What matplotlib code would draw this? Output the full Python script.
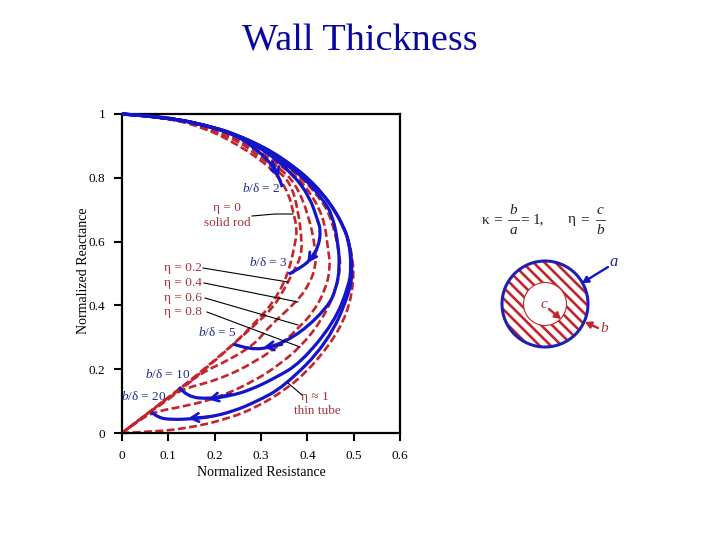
import numpy as np
import matplotlib
matplotlib.use("Agg")
import matplotlib.pyplot as plt
from matplotlib.path import Path
from matplotlib.patches import PathPatch, Circle

plt.rcParams['font.family'] = ['Liberation Serif', 'DejaVu Serif']
plt.rcParams['mathtext.fontset'] = 'custom'
plt.rcParams['mathtext.rm'] = 'Liberation Serif'
plt.rcParams['mathtext.it'] = 'Liberation Serif:italic'

RED = '#c4242c'
BLUE = '#1414c8'
DARK_BLUE = '#1c2a8c'
TEXT_RED = '#a83038'

# curves: resistance, reactance
eta_00_r = [0, .1, .18, .24, .3, .335, .36, .37, .378, .374, .357, .325, .299, .24, .169, .119, .061, 0]
eta_00_x = [1, .99, .955, .912, .856, .809, .75, .69, .64, .595, .49, .407, .364, .276, .188, .125, .066, 0]
eta_02_r = [0, .1, .2, .25, .28, .33, .364, .38, .389, .385, .375, .35, .325, .28, .24, .169, .09, 0]
eta_02_x = [1, .99, .945, .915, .885, .83, .784, .70, .595, .55, .52, .45, .39, .33, .278, .19, .1, 0]
eta_04_r = [0, .1, .2, .25, .29, .34, .374, .403, .418, .418, .405, .381, .316, .288, .23, .17, .09, 0]
eta_04_x = [1, .99, .95, .92, .885, .83, .784, .683, .574, .52, .47, .417, .332, .28, .228, .188, .1, 0]
eta_06_r = [0, .1, .2, .25, .3, .36, .392, .435, .445, .45, .439, .411, .381, .353, .288, .205, .121, .06, 0]
eta_06_x = [1, .99, .955, .925, .88, .82, .784, .683, .574, .52, .448, .375, .33, .29, .222, .165, .135, .066, 0]
eta_08_r = [0, .1, .2, .25, .31, .38, .42, .45, .468, .472, .46, .43, .385, .34, .288, .21, .14, .067, .03, 0]
eta_08_x = [1, .99, .957, .93, .885, .81, .75, .683, .574, .52, .44, .35, .27, .215, .165, .112, .085, .066, .033, 0]
eta_10_r = [0, .07, .14, .218, .3, .357, .4, .433, .458, .477, .49, .497, .5, .497, .49, .477, .458, .433, .4, .357, .288, .218, .14, .07, 0]
eta_10_x = [1, .995, .98, .95, .9, .85, .8, .75, .7, .65, .6, .55, .5, .45, .4, .35, .3, .25, .195, .14, .078, .04, .015, .004, 0]
red_curves = [(eta_00_r, eta_00_x), (eta_02_r, eta_02_x), (eta_04_r, eta_04_x),
              (eta_06_r, eta_06_x), (eta_08_r, eta_08_x), (eta_10_r, eta_10_x)]

bd_2_r = [0, .1, .2, .25, .28, .32, .34, .346]
bd_2_x = [1, .99, .957, .93, .90, .85, .80, .771]
bd_3_r = [0, .1, .2, .25, .31, .37, .405, .422, .429, .424, .407, .381, .36]
bd_3_x = [1, .99, .957, .93, .885, .81, .74, .668, .636, .583, .542, .514, .498]
bd_5_r = [0, .1, .2, .25, .29, .33, .39, .435, .454, .466, .47, .462, .444, .385, .327, .277, .24]
bd_5_x = [1, .99, .958, .932, .90, .865, .805, .73, .683, .60, .52, .45, .395, .313, .27, .26, .279]
bd_10_r = [0, .1, .2, .25, .3, .336, .37, .4, .433, .458, .477, .49, .495, .489, .457, .385, .33, .277, .235, .19, .14, .123]
bd_10_x = [1, .99, .958, .933, .9, .87, .835, .8, .75, .7, .65, .6, .52, .458, .345, .219, .172, .135, .117, .107, .113, .144]
bd_20_r = [0, .1, .2, .25, .3, .336, .37, .4, .433, .458, .477, .49, .497, .494, .444, .349, .288, .24, .19, .147, .11, .078, .063]
bd_20_x = [1, .99, .958, .933, .9, .87, .835, .8, .75, .7, .65, .6, .53, .448, .282, .144, .097, .068, .05, .044, .042, .047, .066]
blue_curves = [(bd_2_r, bd_2_x), (bd_3_r, bd_3_x), (bd_5_r, bd_5_x),
               (bd_10_r, bd_10_x), (bd_20_r, bd_20_x)]

# arrow on each blue curve: tail r, tail x, tip r, tip x
arrows = [(.325, .85, .338, .80), (.415, .565, .40, .533), (.345, .277, .305, .268),
          (.235, .122, .186, .105), (.195, .052, .143, .046)]

x_ticks = [0, .1, .2, .3, .4, .5, .6]
x_tick_labels = ['0', '0.1', '0.2', '0.3', '0.4', '0.5', '0.6']
y_ticks = [0, .2, .4, .6, .8, 1]
y_tick_labels = ['0', '0.2', '0.4', '0.6', '0.8', '1']


def smooth(r, x):
    # quadratic segments through the midpoints, so the read points stay the control points
    pts = np.column_stack([r, x])
    verts = [pts[0]]
    codes = [Path.MOVETO]
    for i in range(1, len(pts) - 1):
        end = pts[i + 1] if i == len(pts) - 2 else (pts[i] + pts[i + 1]) / 2
        verts += [pts[i], end]
        codes += [Path.CURVE3, Path.CURVE3]
    return Path(verts, codes)


fig = plt.figure(figsize=(7.2, 5.4), dpi=100)
ax = fig.add_axes([122 / 720, 1 - 433 / 540, 278 / 720, 319 / 540])
ax.set_xlim(0, .6)
ax.set_ylim(0, 1)
ax.set_xticks(x_ticks, x_tick_labels, fontsize=9.5)
ax.set_yticks(y_ticks, y_tick_labels, fontsize=9.5)
ax.tick_params(length=6, width=1.5, pad=6)
for s in ax.spines.values():
    s.set_linewidth(1.6)
ax.set_xlabel('Normalized Resistance', fontsize=10, labelpad=3)
ax.set_ylabel('Normalized Reactance', fontsize=10, labelpad=-1, y=.51)

for r, x in red_curves:
    ax.add_patch(PathPatch(smooth(r, x), fill=False, ec=RED, lw=1.9, ls=(0, (3, 1.3)), zorder=2, clip_on=False))
for r, x in blue_curves:
    ax.add_patch(PathPatch(smooth(r, x), fill=False, ec=BLUE, lw=2.3, zorder=3, clip_on=False))
for r0, x0, r1, x1 in arrows:
    ax.annotate('', xy=(r1, x1), xytext=(r0, x0), zorder=4,
                arrowprops=dict(arrowstyle='->,head_length=0.55,head_width=0.3', color=BLUE, lw=2,
                                shrinkA=0, shrinkB=0))

# overlay in pixel coordinates for the labels and the cross section
ov = fig.add_axes([0, 0, 1, 1], facecolor='none')
ov.set_xlim(0, 720)
ov.set_ylim(540, 0)
ov.axis('off')

ov.text(360, 41, 'Wall Thickness', ha='center', va='center', fontsize=27.5, color='#0808a0')


def t(x, y, s, color, size=9.5, **kw):
    ov.text(x, y, s, ha='center', va='center', fontsize=size, color=color, **kw)


for px, py, lab in [(261, 189, '2'), (268, 263, '3'), (217, 332, '5'), (168, 374, '10'), (144, 397, '20')]:
    t(px, py, r'$b$/δ = ' + lab, DARK_BLUE)
for py, lab in [(268, '0.2'), (283, '0.4'), (298, '0.6'), (312, '0.8')]:
    t(183, py, 'η = ' + lab, TEXT_RED, size=9.5)
t(227, 208, 'η = 0', TEXT_RED, size=9.5)
t(227, 223, 'solid rod', TEXT_RED)
t(315, 397, 'η ≈ 1', TEXT_RED, size=9.5)
t(317, 411, 'thin tube', TEXT_RED)

leaders = [((252, 216), (275, 214), (293, 214)), ((203, 268), (288, 282)), ((204, 283), (298, 302)),
           ((205, 298), (298, 325)), ((207, 312), (300, 347)), ((302, 395), (288, 383))]
for seg in leaders:
    ov.plot([p[0] for p in seg], [p[1] for p in seg], color='black', lw=0.8, zorder=5)

# formula
for px, py, s in [(486, 220, 'κ'), (498, 220, '='), (525, 220, '='), (538, 220, '1,'), (572, 220, 'η'), (585, 220, '=')]:
    t(px, py, s, '#222222', size=11)
for px, py, s in [(513, 211, 'b'), (513, 231, 'a'), (600, 211, 'c'), (600, 231, 'b')]:
    t(px, py, s, '#222222', size=11, style='italic')
ov.plot([508, 519], [220, 220], color='#444444', lw=0.7)
ov.plot([596, 605], [220, 220], color='#444444', lw=0.7)

# cross section
outer = Circle((545, 304), 43, fc='white', ec='none', zorder=1)
ov.add_patch(outer)
for off in np.arange(-80, 90, 11):
    ln, = ov.plot([545 + off - 60, 545 + off + 60], [304 - 60, 304 + 60], color=RED, lw=1.9, zorder=2)
    ln.set_clip_path(outer)
ov.add_patch(Circle((545, 304), 21.5, fc='white', ec=RED, lw=0.8, zorder=3))
ov.add_patch(Circle((545, 304), 43, fc='none', ec='#2020b0', lw=2.2, zorder=4))

for start, end, col in [((608, 267), (582, 283), BLUE), ((549, 309), (561, 319), RED), ((598, 328), (585, 322), RED)]:
    ov.annotate('', xy=end, xytext=start, zorder=6,
                arrowprops=dict(arrowstyle='-|>,head_length=0.35,head_width=0.2', color=col, lw=1.7,
                                shrinkA=0, shrinkB=0))
t(614, 262, 'a', DARK_BLUE, size=12, style='italic')
t(604, 329, 'b', TEXT_RED, size=11, style='italic')
t(544, 305, 'c', TEXT_RED, size=11, style='italic')

fig.savefig('out.png', dpi=100)
